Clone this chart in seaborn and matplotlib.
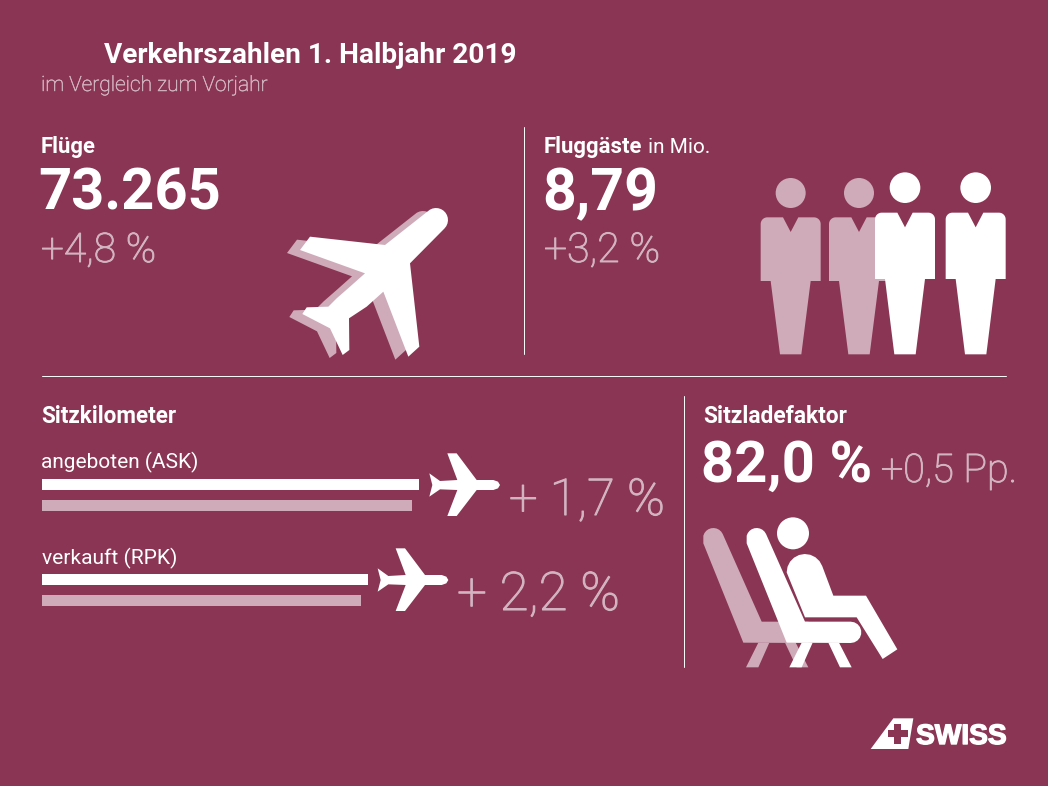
import numpy as np
import pandas as pd
import matplotlib
matplotlib.use("Agg")
import matplotlib.pyplot as plt
import matplotlib.patheffects as pe
from matplotlib.patches import Polygon, Circle
import seaborn as sns

# ---- data ----
categories = ["angeboten (ASK)", "verkauft (RPK)"]
years = ["2019", "2018"]
sitzkm_2019 = [376.5, 325.7]
sitzkm_2018 = [370.0, 318.7]
sitzkm_changes = ["+ 1,7 %", "+ 2,2 %"]
fluege = "73.265"
fluege_change = "+4,8 %"
passagiere = "8,79"
passagiere_change = "+3,2 %"
ladefaktor = "82,0 %"
ladefaktor_change = "+0,5 Pp."

BG = "#8A3553"
PALE = "#CFABBA"
PALET = "#D3B4C1"
WHITE = "#FFFFFF"
FONT = "Roboto"

sns.set_theme(style="white", rc={"figure.facecolor": BG, "axes.facecolor": BG})
plt.rcParams["font.family"] = [FONT, "DejaVu Sans"]

fig = plt.figure(figsize=(10.48, 7.86), dpi=100, facecolor=BG)
ax = fig.add_axes([0, 0, 1, 1], zorder=1)
ax.set_xlim(0, 1048)
ax.set_ylim(786, 0)
ax.axis("off")
ax.patch.set_alpha(0)
renderer = fig.canvas.get_renderer()


def fit(x0, x1, y, s, color=WHITE, weight="normal", family=FONT, thicken=0):
    t = ax.text(x0, y, s, color=color, fontsize=20, fontweight=weight, family=family,
                ha="left", va="baseline", zorder=10)
    w = t.get_window_extent(renderer).width
    t.set_fontsize(20 * (x1 - x0) / w)
    if thicken:
        t.set_path_effects([pe.withStroke(linewidth=thicken, foreground=color)])
    return t


def poly(points, color, ox=0, oy=0, sx=1 / 3, zorder=3):
    pts = [(ox + p[0] * sx, oy + p[1] * sx) for p in points]
    ax.add_patch(Polygon(pts, closed=True, facecolor=color, edgecolor="none", zorder=zorder))


def arc(cx, cy, r, a0, a1, n=10):
    return [(cx + r * np.cos(np.radians(a)), cy + r * np.sin(np.radians(a)))
            for a in np.linspace(a0, a1, n)]


# ---- text ----
fit(104, 516, 63, "Verkehrszahlen 1. Halbjahr 2019", weight="bold")
fit(41, 268, 91, "im Vergleich zum Vorjahr", color=PALET, weight="light", thicken=0.35)
fit(41, 96, 153, "Flüge", weight="bold")
fit(38, 221, 210, fluege, weight="bold")
fit(41, 156, 262, fluege_change, color=PALET, weight="light", thicken=0.7)
fit(544, 642, 153, "Fluggäste", weight="bold")
fit(648, 710, 153, "in Mio.")
fit(542, 658, 210, passagiere, weight="bold")
fit(544, 660, 262, passagiere_change, color=PALET, weight="light", thicken=0.7)
fit(41, 176, 423, "Sitzkilometer", weight="bold")
fit(41, 198, 468, categories[0])
fit(42, 177, 564, categories[1])
fit(509, 665, 515, sitzkm_changes[0], color=PALET, weight="light", thicken=0.8)
fit(457, 620, 610, sitzkm_changes[1], color=PALET, weight="light", thicken=0.8)
fit(703, 847, 423, "Sitzladefaktor", weight="bold")
fit(701, 872, 482, ladefaktor, weight="bold")
fit(881, 1017, 482, ladefaktor_change, color=PALET, weight="light", thicken=0.7)

# ---- rules ----
ax.plot([524, 524], [127, 354], color=WHITE, lw=0.7, zorder=2)
ax.plot([42, 1006], [376, 376], color=WHITE, lw=0.7, zorder=2)
ax.plot([684, 684], [396, 667], color=WHITE, lw=0.7, zorder=2)

# ---- bars ----
bx = fig.add_axes([42 / 1048, 1 - 640 / 786, 400 / 1048, 195 / 786], zorder=2)
bx.patch.set_alpha(0)
df = pd.DataFrame({
    "Kategorie": categories * 2,
    "Jahr": [years[0]] * 2 + [years[1]] * 2,
    "Wert": sitzkm_2019 + sitzkm_2018,
})
sns.barplot(data=df, y="Kategorie", x="Wert", hue="Jahr", order=categories, hue_order=years,
            palette=[WHITE, PALE], width=0.436, gap=0.47, legend=False, saturation=1,
            orient="h", ax=bx, linewidth=0, edgecolor="none")
bx.set_xlim(0, 400)
bx.set_ylim((640 - 495) / 95, (445 - 495) / 95)
bx.axis("off")

# ---- big plane ----
big_plane = [(345, 165), (120, 140), (90, 180), (285, 250), (240, 290), (200, 325),
             (175, 350), (110, 352), (97, 372), (180, 415), (218, 495), (238, 480), (237, 385),
             (290, 350), (340, 305), (415, 500), (448, 470), (420, 220)] + arc(498, 90, 36, 45, -135, 14)
poly(big_plane, PALE, 270 - 13, 190 + 3, zorder=3)
poly(big_plane, WHITE, 270, 190, zorder=4)

# ---- people ----


def person(cx, hy, r, top, low, color, z):
    hw = 90
    ax.add_patch(Circle((750 + cx / 3, 165 + hy / 3), r / 3, facecolor=color, edgecolor="none", zorder=z))
    pts = [(cx - 23, top), (cx, top + 44), (cx + 23, top)]
    pts += arc(cx + hw - 20, top + 20, 20, -90, 0)
    pts += [(cx + hw, low), (cx + 60, low), (cx + 32, 568), (cx - 32, 568), (cx - 60, low), (cx - hw, low)]
    pts += arc(cx - hw + 20, top + 20, 20, 180, 270)
    poly(pts, color, 750, 165, zorder=z)


person(122, 84, 45, 157, 348, PALE, 3)
person(327, 84, 45, 157, 348, PALE, 3)
person(465, 68, 46, 143, 342, WHITE, 4)
person(677, 68, 46, 143, 342, WHITE, 4)

# ---- seat ----


def seat(dx, color, z):
    back = arc(200 + dx, 85, 31, 195, 335)
    back += [(345 + dx, 335), (482 + dx, 335)] + arc(482 + dx, 367, 32, -90, 90)
    back += [(290 + dx, 398), (170 + dx, 100)]
    poly(back, color, 690, 510, zorder=z)
    poly([(335 + dx, 398), (368 + dx, 398), (335 + dx, 472), (298 + dx, 472)], color, 690, 510, zorder=z)
    poly([(415 + dx, 398), (447 + dx, 398), (485 + dx, 472), (450 + dx, 472)], color, 690, 510, zorder=z)


seat(-130, PALE, 3)
seat(0, WHITE, 4)
ax.add_patch(Circle((690 + 309 / 3, 510 + 70 / 3), 48 / 3, facecolor=WHITE, edgecolor="none", zorder=4))
body = arc(345, 187, 55, 180, 340) + [(430, 257), (528, 257), (622, 418), (578, 447), (500, 322), (345, 322)]
poly(body, WHITE, 690, 510, zorder=4)

# ---- small planes ----
small_plane = [(1198, 85), (1230, 108), (1282, 105), (1252, 25), (1280, 25), (1340, 105), (1390, 105),
               (1404, 110), (1410, 120), (1404, 130), (1390, 135), (1340, 135), (1280, 213), (1252, 213),
               (1282, 135), (1230, 133), (1198, 155), (1207, 120)]
poly(small_plane, WHITE, 30, 445, zorder=4)
poly(small_plane, WHITE, 30 - 155 / 3, 445 + 285 / 3, zorder=4)

# ---- logo ----
poly([(32, 132), (100, 40), (160, 40), (145, 132)], WHITE, 860, 705, zorder=4)
poly([(103, 57), (124, 57), (124, 76), (143, 76), (143, 97), (124, 97), (124, 116), (103, 116),
      (103, 97), (83, 97), (83, 76), (103, 76)], BG, 860, 705, zorder=5)
fit(916, 1007, 744, "SWISS", weight="bold", family="Liberation Sans", thicken=1.0)

fig.savefig("out.png", dpi=100, facecolor=BG)
